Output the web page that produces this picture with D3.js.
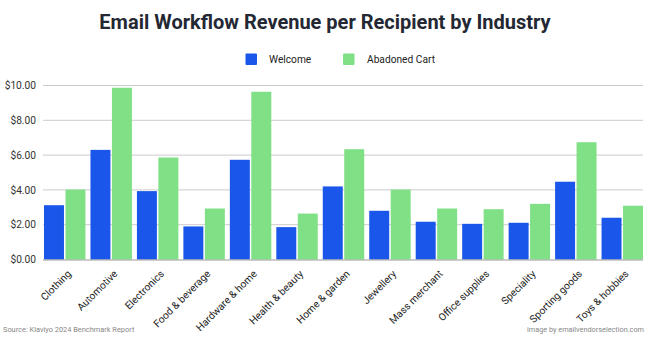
<!DOCTYPE html>
<html><head><meta charset="utf-8">
<script src="https://cdn.jsdelivr.net/npm/d3@7"></script>
<style>body{margin:0;background:#fff}svg{display:block;font-family:Roboto,"Noto Sans",sans-serif}</style>
</head><body><svg id="c" width="650" height="337"></svg>
<script>
const categories = ["Clothing","Automotive","Electronics","Food & beverage","Hardware & home","Health & beauty","Home & garden","Jewellery","Mass merchant","Office supplies","Speciality","Sporting goods","Toys & hobbies"];
const seriesNames = ["Welcome","Abadoned Cart"];
const welcome = [3.12,6.30,3.93,1.90,5.73,1.86,4.20,2.80,2.17,2.05,2.11,4.47,2.40];
const abandonedCart = [4.02,9.87,5.86,2.93,9.64,2.64,6.34,4.02,2.93,2.89,3.20,6.74,3.09];
const yTicks = [0,2,4,6,8,10];
const colors = ["#1a56e9","#7fe085"];

const svg = d3.select("#c");
const m = {l:44, r:7};
const W = 650;
const x0 = d3.scaleBand().domain(categories).range([m.l, W-m.r]).paddingInner(0.108).paddingOuter(0);
const x1 = d3.scaleBand().domain(seriesNames).range([0, x0.bandwidth()]).paddingInner(0.07);
const y = d3.scaleLinear().domain([0,10]).range([259.5, 85.5]);

// grid
svg.append("g").selectAll("line").data(yTicks.filter(d=>d>0)).join("line")
  .attr("x1", m.l-1).attr("x2", W-m.r).attr("y1", d=>y(d)).attr("y2", d=>y(d))
  .attr("stroke","#cccccc").attr("stroke-width",1);

// y axis labels
const yAxis = d3.axisLeft(y).tickValues(yTicks).tickFormat(d=>"$"+d3.format(".2f")(d)).tickSize(0).tickPadding(7);
const ya = svg.append("g").attr("transform",`translate(${m.l-1},0)`).call(yAxis);
ya.select(".domain").remove();
ya.selectAll("text").attr("font-size",10.2).attr("fill","#333").attr("font-family","Roboto");

// bars
const data = categories.map((c,i)=>({c, vals:[welcome[i], abandonedCart[i]]}));
const g = svg.append("g").selectAll("g").data(data).join("g").attr("transform", d=>`translate(${x0(d.c)},0)`);
g.selectAll("rect").data(d=>d.vals.map((v,j)=>({s:seriesNames[j], v, j}))).join("rect")
  .attr("x", d=>x1(d.s)).attr("width", x1.bandwidth())
  .attr("y", d=>y(d.v)).attr("height", d=>y(0)-y(d.v))
  .attr("fill", d=>colors[d.j]);

// baseline
svg.append("line").attr("x1", m.l-1).attr("x2", W-m.r).attr("y1", y(0)+0.5).attr("y2", y(0)+0.5).attr("stroke","#999").attr("stroke-width",1);

// x axis labels
const xAxis = d3.axisBottom(x0).tickSize(0).tickPadding(0);
const xa = svg.append("g").attr("transform",`translate(0,${y(0)})`).call(xAxis);
xa.select(".domain").remove();
xa.selectAll("text").attr("font-size",10.2).attr("fill","#222").attr("font-family","Roboto")
  .attr("text-anchor","end").attr("dy",0).attr("y",0)
  .attr("transform","translate(7,15) rotate(-45)");

// title
svg.append("text").attr("x",325).attr("y",28.5).attr("text-anchor","middle")
  .attr("font-size",20).attr("font-weight","bold").attr("fill","#232833").attr("font-family","Roboto")
  .text("Email Workflow Revenue per Recipient by Industry");

// legend
const leg = [{x:245.5, tx:269},{x:343, tx:367}];
seriesNames.forEach((s,i)=>{
  svg.append("rect").attr("x",leg[i].x).attr("y",53.5).attr("width",11.5).attr("height",11.5).attr("rx",1).attr("fill",colors[i]);
  svg.append("text").attr("x",leg[i].tx).attr("y",63).attr("font-size",10.2).attr("fill","#222").attr("font-family","Roboto").text(s);
});

// footer
svg.append("text").attr("x",3).attr("y",332).attr("font-size",7.4).attr("fill","#888").attr("font-family","Roboto").text("Source: Klaviyo 2024 Benchmark Report");
svg.append("text").attr("x",644).attr("y",332).attr("text-anchor","end").attr("font-size",7.3).attr("fill","#888").attr("font-family","Roboto").text("image by emailvendorselection.com");
</script></body></html>
